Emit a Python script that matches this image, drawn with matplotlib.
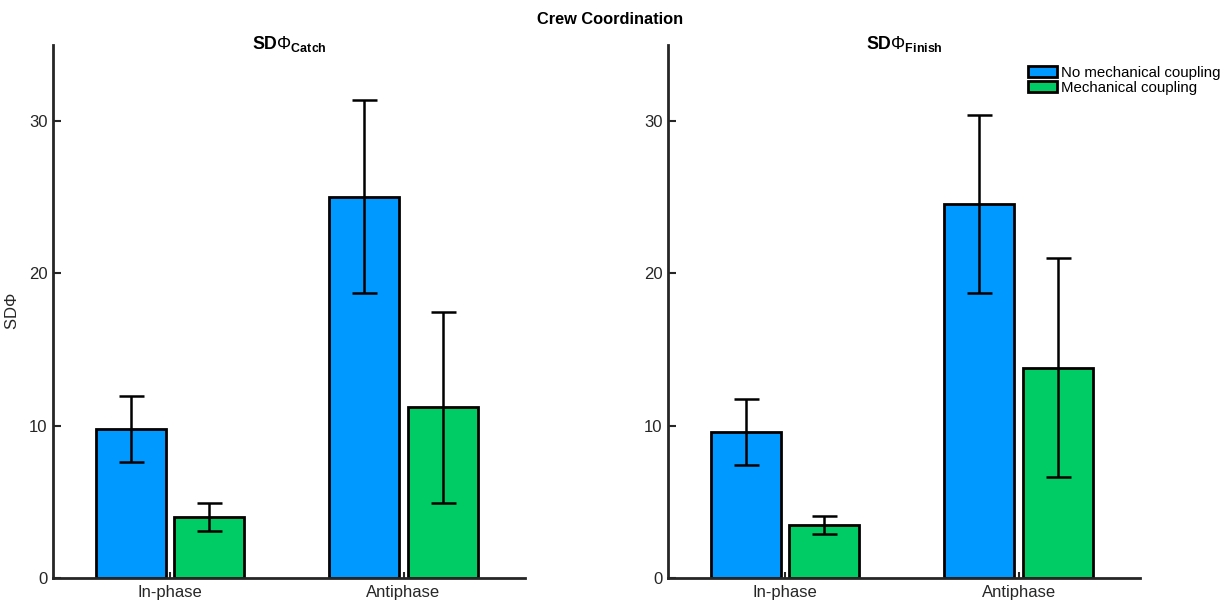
import numpy as np
import matplotlib
matplotlib.use("Agg")
import matplotlib.pyplot as plt
from matplotlib.patches import Patch

plt.rcParams["font.family"] = ["Liberation Sans", "DejaVu Sans"]
plt.rcParams["mathtext.fontset"] = "custom"
plt.rcParams["mathtext.rm"] = "Liberation Sans"
plt.rcParams["mathtext.bf"] = "Liberation Sans:bold"
plt.rcParams["mathtext.it"] = "Liberation Sans:italic"

# data
categories = ["In-phase", "Antiphase"]
series = ["No mechanical coupling", "Mechanical coupling"]

catch_mean_no = [9.8, 25.05]
catch_low_no = [7.6, 18.7]
catch_high_no = [11.95, 31.4]
catch_mean_mech = [4.0, 11.2]
catch_low_mech = [3.1, 4.9]
catch_high_mech = [4.9, 17.45]

finish_mean_no = [9.6, 24.55]
finish_low_no = [7.45, 18.7]
finish_high_no = [11.75, 30.4]
finish_mean_mech = [3.5, 13.8]
finish_low_mech = [2.9, 6.6]
finish_high_mech = [4.1, 21.0]

panel_titles = [r"SD$\Phi_{\mathbf{Catch}}$", r"SD$\Phi_{\mathbf{Finish}}$"]

BLUE = "#0099ff"
GREEN = "#00cc66"
AXIS_COLOR = "#262626"

fig = plt.figure(figsize=(12.21, 6), dpi=100)
ax_left = fig.add_axes([0.0434, 0.0367, 0.3866, 0.8883])
ax_right = fig.add_axes([0.5471, 0.0367, 0.3866, 0.8883])

panels = [
    (ax_left, catch_mean_no, catch_low_no, catch_high_no,
     catch_mean_mech, catch_low_mech, catch_high_mech),
    (ax_right, finish_mean_no, finish_low_no, finish_high_no,
     finish_mean_mech, finish_low_mech, finish_high_mech),
]

x = np.arange(1, len(categories) + 1)
width = 0.30
offset = 0.168

for i, (ax, m1, l1, h1, m2, l2, h2) in enumerate(panels):
    for xs, mean, low, high, color in [
        (x - offset, m1, l1, h1, BLUE),
        (x + offset, m2, l2, h2, GREEN),
    ]:
        mean = np.array(mean)
        err = [mean - np.array(low), np.array(high) - mean]
        ax.bar(xs, mean, width, color=color, edgecolor="black", linewidth=2, zorder=2)
        ax.errorbar(xs, mean, yerr=err, fmt="none", ecolor="black",
                    elinewidth=1.8, capsize=9, capthick=1.8, zorder=3)

    ax.set_xlim(0.5, 2.52)
    ax.set_ylim(0, 35)
    ax.set_yticks([0, 10, 20, 30])
    ax.set_xticks(x)
    ax.set_xticklabels(categories)
    for side in ["top", "right"]:
        ax.spines[side].set_visible(False)
    for side in ["left", "bottom"]:
        ax.spines[side].set_color(AXIS_COLOR)
        ax.spines[side].set_linewidth(2)
    ax.tick_params(axis="both", direction="in", colors=AXIS_COLOR,
                   labelsize=12, width=1.5)
    ax.tick_params(axis="y", length=6, pad=4)
    ax.tick_params(axis="x", length=4, pad=5)
    ax.set_title(panel_titles[i], fontsize=12.8, fontweight="bold",
                 y=0.993, pad=0, color="black")

ax_left.set_ylabel(r"SD$\Phi$", fontsize=12, color=AXIS_COLOR, labelpad=6)

handles = [Patch(facecolor=BLUE, edgecolor="black", linewidth=2),
           Patch(facecolor=GREEN, edgecolor="black", linewidth=2)]
ax_right.legend(handles, series, loc="upper left", bbox_to_anchor=(0.75, 0.972),
                frameon=False, fontsize=10.8, handlelength=1.9, handleheight=0.8,
                handletextpad=0.3, labelspacing=0.05, borderaxespad=0)

fig.suptitle("Crew Coordination", fontsize=11.8, fontweight="bold", y=0.968, va="center")

fig.savefig("out.png", dpi=100)
